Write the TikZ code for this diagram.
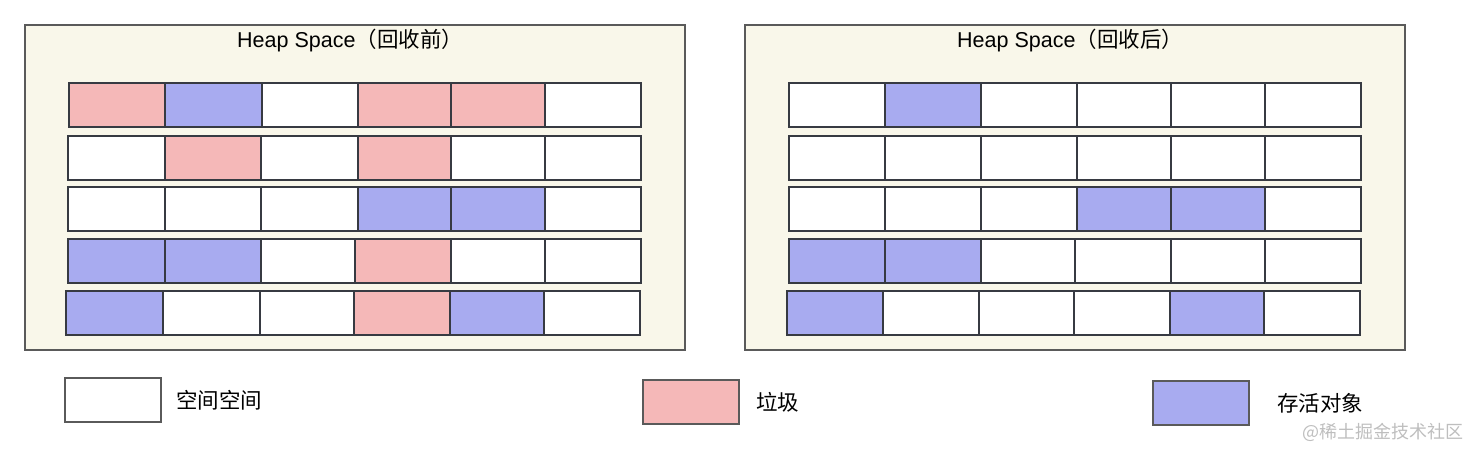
\documentclass[tikz,border=0pt]{standalone}
\usepackage{fontspec}
\setmainfont{Liberation Sans}
\newfontfamily\cjk{Noto Sans CJK SC}
\definecolor{pk}{RGB}{245,184,184}
\definecolor{bl}{RGB}{168,171,240}
\definecolor{wh}{RGB}{255,255,255}
\definecolor{cream}{RGB}{249,247,234}
\definecolor{cellline}{RGB}{55,58,66}
\definecolor{panelline}{RGB}{90,90,90}
\definecolor{wm}{RGB}{190,190,190}
\tikzset{
  heapcell/.style={draw=cellline, line width=1.4pt, inner sep=0pt, outer sep=0pt, minimum height=44pt},
  panelbox/.style={draw=panelline, line width=1.5pt, fill=cream, minimum width=660pt, minimum height=325pt, inner sep=0pt},
  legbox/.style={draw=panelline, line width=1.4pt, minimum width=96pt, minimum height=44pt, inner sep=0pt},
  titletext/.style={inner sep=0pt, anchor=west, font=\fontsize{21.5}{25}\selectfont},
  legtext/.style={inner sep=0pt, anchor=west, font=\cjk\fontsize{21.5}{25}\selectfont},
}
\newcommand\heaprow[3]{%
  \foreach \xa/\xb/\cc [count=\i] in {#3} {
    \node[heapcell, fill=\cc, minimum width={(\xb-\xa)*1pt}] (#1-\i) at ({(\xa+\xb)/2},{#2+22}) {};
  }}
\begin{document}
\begin{tikzpicture}[x=1pt,y=-1pt]
\useasboundingbox (0,0) rectangle (1469,449);
% panels
\node[panelbox] (Lpanel) at (355,187.5) {};
\node[panelbox] (Rpanel) at (1075,187.5) {};
\node[titletext] (Ltitle) at (237,40.5) {Heap Space{\cjk（回收前）}};
\node[titletext] (Rtitle) at (957,40.5) {Heap Space{\cjk（回收后）}};
% left heap
\heaprow{L1}{83}{69/165/pk,165/262/bl,262/358/wh,358/451/pk,451/545/pk,545/641/wh}
\heaprow{L2}{136}{68/165/wh,165/261/pk,261/358/wh,358/451/pk,451/545/wh,545/641/wh}
\heaprow{L3}{187}{68/165/wh,165/261/wh,261/358/wh,358/451/bl,451/545/bl,545/641/wh}
\heaprow{L4}{239}{68/165/bl,165/261/bl,261/355/wh,355/451/pk,451/545/wh,545/641/wh}
\heaprow{L5}{291}{66/163/bl,163/260/wh,260/354/wh,354/450/pk,450/544/bl,544/640/wh}
% right heap
\heaprow{R1}{83}{789/885/wh,885/981/bl,981/1077/wh,1077/1171/wh,1171/1265/wh,1265/1361/wh}
\heaprow{R2}{136}{789/885/wh,885/981/wh,981/1077/wh,1077/1171/wh,1171/1265/wh,1265/1361/wh}
\heaprow{R3}{187}{789/885/wh,885/981/wh,981/1077/wh,1077/1171/bl,1171/1265/bl,1265/1361/wh}
\heaprow{R4}{239}{789/885/bl,885/981/bl,981/1075/wh,1075/1171/wh,1171/1265/wh,1265/1361/wh}
\heaprow{R5}{291}{787/883/bl,883/979/wh,979/1074/wh,1074/1170/wh,1170/1264/bl,1264/1360/wh}
% legend
\node[legbox, fill=wh] (legfree) at (113,400) {};
\node[legtext] (legfreet) at (176,400) {空间空间};
\node[legbox, fill=pk] (leggarb) at (691,402) {};
\node[legtext] (leggarbt) at (756,402) {垃圾};
\node[legbox, fill=bl] (legalive) at (1201,403) {};
\node[legtext] (legalivet) at (1277,403) {存活对象};
% watermark
\node[inner sep=0pt, anchor=east, text=wm, font=\cjk\fontsize{18}{22}\selectfont] (wmark) at (1464,432) {@稀土掘金技术社区};
\end{tikzpicture}
\end{document}
